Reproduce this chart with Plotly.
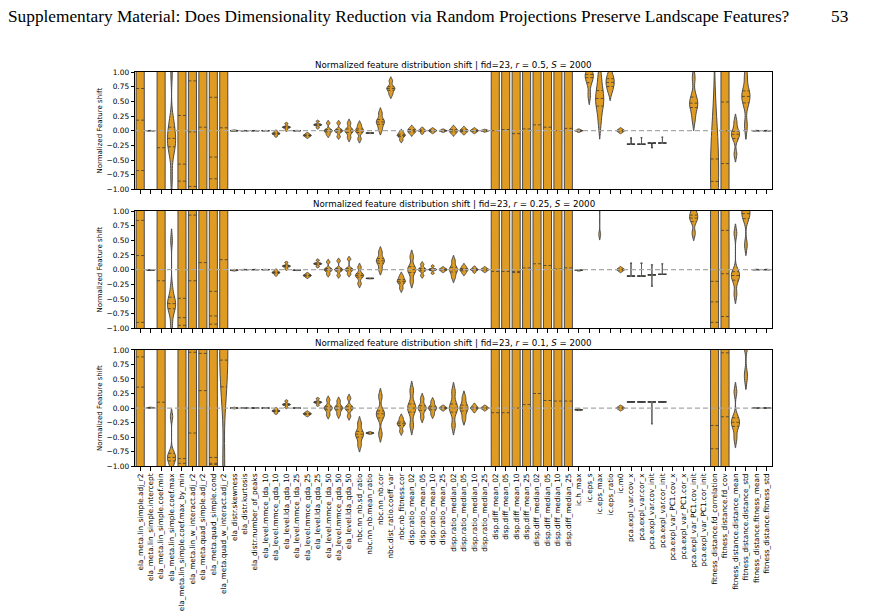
import numpy as np
import plotly.graph_objects as go

features = [
    "ela_meta.lin_simple.adj_r2", "ela_meta.lin_simple.intercept", "ela_meta.lin_simple.coef.min",
    "ela_meta.lin_simple.coef.max", "ela_meta.lin_simple.coef.max_by_min", "ela_meta.lin_w_interact.adj_r2",
    "ela_meta.quad_simple.adj_r2", "ela_meta.quad_simple.cond", "ela_meta.quad_w_interact.adj_r2",
    "ela_distr.skewness", "ela_distr.kurtosis", "ela_distr.number_of_peaks",
    "ela_level.mmce_lda_10", "ela_level.mmce_qda_10", "ela_level.lda_qda_10",
    "ela_level.mmce_lda_25", "ela_level.mmce_qda_25", "ela_level.lda_qda_25",
    "ela_level.mmce_lda_50", "ela_level.mmce_qda_50", "ela_level.lda_qda_50",
    "nbc.nn_nb.sd_ratio", "nbc.nn_nb.mean_ratio", "nbc.nn_nb.cor", "nbc.dist_ratio.coeff_var",
    "nbc.nb_fitness.cor",
    "disp.ratio_mean_02", "disp.ratio_mean_05", "disp.ratio_mean_10", "disp.ratio_mean_25",
    "disp.ratio_median_02", "disp.ratio_median_05", "disp.ratio_median_10", "disp.ratio_median_25",
    "disp.diff_mean_02", "disp.diff_mean_05", "disp.diff_mean_10", "disp.diff_mean_25",
    "disp.diff_median_02", "disp.diff_median_05", "disp.diff_median_10", "disp.diff_median_25",
    "ic.h_max", "ic.eps_s", "ic.eps_max", "ic.eps_ratio", "ic.m0",
    "pca.expl_var.cov_x", "pca.expl_var.cor_x", "pca.expl_var.cov_init", "pca.expl_var.cor_init",
    "pca.expl_var_PC1.cov_x", "pca.expl_var_PC1.cor_x", "pca.expl_var_PC1.cov_init",
    "pca.expl_var_PC1.cor_init",
    "fitness_distance.fd_correlation", "fitness_distance.fd_cov", "fitness_distance.distance_mean",
    "fitness_distance.distance_std", "fitness_distance.fitness_mean", "fitness_distance.fitness_std",
]

# sample shifts per feature (estimated from the figure); [] = nothing inside the window
shift_r05 = [
    [-40, -0.68, 0.18, 0.72, 40], [-0.003, -0.001, 0, 0.001, 0.003],
    [-40, -1.6, -0.29, 1.6, 40],
    [-0.8, -0.4, -0.31, -0.24, -0.18, -0.13, -0.07, 0.0, 0.12, 0.2, 1.0],
    [-40, -0.86, -0.57, 0.26, 40], [-40, -0.95, -0.02, 0.85, 40],
    [-40, -1.3, 0.06, 1.3, 40], [-40, -0.82, -0.45, 0.57, 40], [-40, -1.4, 0.05, 1.4, 40],
    [-0.008, -0.003, 0, 0.003, 0.008], [-0.003, -0.001, 0, 0.001, 0.003],
    [-0.003, -0.001, 0, 0.001, 0.003], [-0.003, -0.001, 0, 0.001, 0.003],
    [-0.09, -0.06, -0.05, -0.04, -0.01], [0.01, 0.05, 0.06, 0.07, 0.12],
    [-0.004, -0.001, 0, 0.001, 0.004], [-0.11, -0.09, -0.08, -0.07, -0.05],
    [0.05, 0.09, 0.1, 0.11, 0.16],
    [-0.07, -0.02, 0, 0.02, 0.13], [-0.1, -0.02, 0, 0.02, 0.13], [-0.12, -0.03, 0, 0.03, 0.13],
    [-0.14, -0.03, 0, 0.03, 0.1], [-0.045, -0.042, -0.04, -0.038, -0.035],
    [0.02, 0.11, 0.15, 0.19, 0.3], [0.62, 0.69, 0.72, 0.75, 0.85],
    [-0.16, -0.1, -0.08, -0.06, -0.02],
    [-0.05, -0.02, 0, 0.02, 0.05], [-0.04, -0.01, 0, 0.01, 0.04], [-0.03, -0.01, 0, 0.01, 0.03],
    [-0.02, -0.005, 0, 0.005, 0.02],
    [-0.05, -0.02, 0, 0.02, 0.05], [-0.04, -0.015, 0, 0.015, 0.04], [-0.03, -0.01, 0, 0.01, 0.03],
    [-0.015, -0.005, 0, 0.005, 0.015],
    [-40, -1.2, 0.0, 1.2, 40], [-40, -1.2, 0.02, 1.2, 40], [-40, -1.2, -0.05, 1.2, 40],
    [-40, -1.2, 0.03, 1.2, 40],
    [-40, -1.2, 0.1, 1.2, 40], [-40, -1.2, 0.06, 1.2, 40], [-40, -1.2, 0.0, 1.2, 40],
    [-40, -1.2, 0.04, 1.2, 40],
    [-0.02, -0.005, 0, 0.005, 0.02], [0.6, 0.8, 0.88, 0.93, 0.97, 1.02],
    [0.14, 0.38, 0.46, 0.55, 0.62, 0.75, 0.95], [0.66, 0.74, 0.8, 0.85, 0.9, 0.98],
    [-0.03, -0.01, 0, 0.01, 0.03],
    [-0.23, -0.23, -0.23, -0.23, -0.23, -0.12], [-0.23, -0.23, -0.23, -0.23, -0.23, -0.12],
    [-0.29, -0.21, -0.21, -0.21, -0.21, -0.21], [-0.21, -0.21, -0.21, -0.21, -0.21, -0.11],
    [], [], [0.2, 0.38, 0.44, 0.5, 0.6, 0.9], [],
    [-2.5, -1.6, -1.0, -0.73, -0.4, 0.05], [-40, -0.56, 0.0, 0.49, 40],
    [-0.4, -0.15, -0.08, -0.04, 0.0, 0.15], [0.08, 0.45, 0.55, 0.62, 0.7, 0.95],
    [-0.004, -0.001, 0, 0.001, 0.004], [-0.004, -0.001, 0, 0.001, 0.004],
]

shift_r025 = [
    [-40, -0.9, 0.24, 0.84, 40], [-0.014, -0.011, -0.01, -0.009, -0.006],
    [-40, -1.4, -0.19, 1.4, 40],
    [-0.95, -0.75, -0.68, -0.63, -0.6, -0.56, -0.5, -0.46, -0.3, 0.5],
    [-40, -0.95, -0.82, -0.49, 40], [-40, -1.5, -0.19, 0.93, 40],
    [-40, -1.3, 0.12, 1.3, 40], [-40, -0.93, -0.79, -0.37, 40], [-40, -1.3, 0.17, 1.3, 40],
    [-0.018, -0.013, -0.01, -0.007, -0.002], [-0.003, -0.001, 0, 0.001, 0.003],
    [-0.003, -0.001, 0, 0.001, 0.003], [-0.003, -0.001, 0, 0.001, 0.003],
    [-0.09, -0.06, -0.05, -0.04, -0.01], [0.01, 0.05, 0.06, 0.07, 0.12],
    [-0.014, -0.011, -0.01, -0.009, -0.006], [-0.13, -0.11, -0.1, -0.09, -0.07],
    [0.05, 0.09, 0.1, 0.11, 0.16],
    [-0.08, -0.02, 0, 0.02, 0.13], [-0.1, -0.02, 0, 0.02, 0.15], [-0.08, -0.02, 0, 0.02, 0.18],
    [-0.24, -0.13, -0.1, -0.07, 0.04], [-0.155, -0.152, -0.15, -0.148, -0.145],
    [0.0, 0.11, 0.15, 0.19, 0.3], [], [-0.32, -0.23, -0.2, -0.17, -0.11],
    [-0.2, -0.05, 0, 0.05, 0.22], [-0.1, -0.02, 0, 0.02, 0.09], [-0.06, -0.01, 0, 0.01, 0.06],
    [-0.03, -0.01, 0, 0.01, 0.03],
    [-0.13, -0.04, 0, 0.04, 0.15], [-0.06, -0.02, 0, 0.02, 0.06], [-0.04, -0.01, 0, 0.01, 0.04],
    [-0.03, -0.01, 0, 0.01, 0.03],
    [-40, -1.2, -0.03, 1.2, 40], [-40, -1.2, -0.03, 1.2, 40], [-40, -0.05, -0.03, 1.2, 40],
    [-40, -1.2, 0.03, 1.2, 40],
    [-40, -1.2, 0.1, 1.2, 40], [-40, -1.2, 0.07, 1.2, 40], [-40, -1.2, 0.01, 1.2, 40],
    [-40, -1.2, 0.03, 1.2, 40],
    [-0.02, -0.012, -0.01, -0.008, -0.003], [],
    [0.6, 1.2, 1.22, 1.25, 1.27, 1.3, 1.32, 1.35], [],
    [-0.03, -0.01, 0, 0.01, 0.03],
    [-0.11, -0.11, -0.11, -0.11, -0.11, -0.11, -0.11, -0.11, 0.11, 0.11],
    [-0.11, -0.11, -0.11, -0.11, -0.11, -0.11, -0.11, -0.11, 0.11, 0.11],
    [-0.28, -0.09, -0.09, -0.09, -0.09, 0.08], [-0.08, -0.08, -0.08, -0.08, -0.08, 0.1],
    [], [], [0.62, 0.82, 0.88, 0.93, 1.0], [],
    [-40, -0.9, -0.55, -0.2, 40], [-40, -0.8, -0.07, 0.67, 40],
    [-0.42, -0.2, -0.12, -0.08, -0.02, 0.62], [0.42, 0.85, 0.93, 0.98, 1.05, 1.15],
    [-0.004, -0.001, 0, 0.001, 0.004], [-0.004, -0.001, 0, 0.001, 0.004],
]

shift_r01 = [
    [-40, -1.3, 0.36, 0.88, 40], [-0.001, 0.003, 0.005, 0.007, 0.011],
    [-40, -1.3, 0.1, 1.3, 40],
    [-1.05, -0.93, -0.89, -0.85, -0.81, -0.75, -0.15],
    [-40, -0.95, -0.87, 1.3, 40], [-40, -1.5, -0.43, 0.96, 40],
    [-40, 0.3, 0.94, 1.5, 40], [-40, -0.97, -0.95, -0.85, 40],
    [-0.98, 0.2, 0.42, 0.7, 0.95, 1.1, 1.3, 1.6],
    [-0.008, -0.003, 0, 0.003, 0.008], [-0.003, -0.001, 0, 0.001, 0.003],
    [-0.003, -0.001, 0, 0.001, 0.003], [-0.003, -0.001, 0, 0.001, 0.003],
    [-0.09, -0.06, -0.05, -0.04, -0.01], [0.01, 0.05, 0.06, 0.07, 0.12],
    [-0.004, -0.001, 0, 0.001, 0.004], [-0.13, -0.11, -0.1, -0.09, -0.07],
    [0.05, 0.09, 0.1, 0.11, 0.16],
    [-0.12, -0.03, 0, 0.03, 0.14], [-0.11, -0.03, 0, 0.03, 0.12], [-0.14, -0.03, 0, 0.03, 0.17],
    [-0.64, -0.5, -0.45, -0.4, -0.26], [-0.445, -0.435, -0.43, -0.425, -0.415],
    [-0.45, -0.17, -0.1, -0.05, 0.2], [], [-0.4, -0.3, -0.27, -0.24, -0.17],
    [-0.3, -0.07, 0, 0.07, 0.3], [-0.16, -0.04, 0, 0.04, 0.16], [-0.11, -0.03, 0, 0.03, 0.11],
    [-0.03, -0.01, 0, 0.01, 0.03],
    [-0.3, -0.07, 0, 0.07, 0.28], [-0.18, -0.05, 0, 0.05, 0.18], [-0.05, -0.015, 0, 0.015, 0.05],
    [-0.03, -0.01, 0, 0.01, 0.03],
    [-40, -1.2, -0.08, 1.2, 40], [-40, -1.2, -0.08, 1.2, 40], [-40, -1.2, 0.0, 1.2, 40],
    [-40, -1.2, 0.06, 1.2, 40],
    [-40, -1.2, 0.25, 1.2, 40], [-40, -1.2, 0.13, 1.2, 40], [-40, -1.2, 0.12, 1.2, 40],
    [-40, -1.2, 0.12, 1.2, 40],
    [-0.04, -0.032, -0.03, -0.028, -0.02], [], [], [],
    [-0.03, -0.01, 0, 0.01, 0.03],
    [0.104, 0.105, 0.105, 0.105, 0.106], [0.104, 0.105, 0.105, 0.105, 0.106],
    [-0.27, 0.105, 0.105, 0.105, 0.105, 0.105], [0.104, 0.105, 0.105, 0.105, 0.106],
    [], [], [], [],
    [-40, -0.7, -0.3, 1.5, 40], [-40, -1.4, -0.15, 0.95, 40],
    [-0.52, -0.33, -0.27, -0.22, -0.15, 0.28], [0.55, 1.1, 1.2, 1.3, 1.4],
    [-0.004, -0.001, 0, 0.001, 0.004], [-0.004, -0.001, 0, 0.001, 0.004],
]

panels = [("0.5", shift_r05), ("0.25", shift_r025), ("0.1", shift_r01)]

ORANGE = "#E09C22"
EDGE = "#4a4a4a"
W = 0.78
FONT = "DejaVu Sans"

# the page body adds an 8px margin, so the figure is drawn 8px smaller and shifted
FW, FH, OFF = 861, 608, 8


def fx(px):
    return (px - OFF) / FW


def fy(py):
    return 1 - (py - OFF) / FH


x_dom = [fx(135), fx(772)]
y_doms = [[fy(188), fy(69)], [fy(329), fy(210)], [fy(469), fy(351)]]


def bandwidth(v):
    span = v.max() - v.min()
    if span > 20:
        return 12.0  # very spread features: flat band inside the window
    q1, q3 = np.percentile(v, [25, 75])
    sil = 1.059 * min(v.std(ddof=1), (q3 - q1) / 1.349) * len(v) ** -0.2
    return max(sil, span / 100)


def density(v, bw, t):
    t = np.atleast_1d(np.asarray(t, float))
    return np.exp(-0.5 * ((t[:, None] - v[None, :]) / bw) ** 2).sum(axis=1)


fig = go.Figure()
layout = {}

for k, (r, data) in enumerate(panels):
    sfx = "" if k == 0 else str(k + 1)
    xa, ya = "x" + sfx, "y" + sfx
    qx, qy = [], []
    for i, vals in enumerate(data):
        if not vals:
            continue
        v = np.array(vals, float)
        bw = bandwidth(v)
        fig.add_trace(go.Violin(
            x=[i] * len(v), y=v, xaxis=xa, yaxis=ya, bandwidth=bw, width=W,
            scalemode="width", spanmode="soft", points=False,
            fillcolor=ORANGE, line=dict(color=EDGE, width=1),
            hoverinfo="skip", showlegend=False,
        ))
        # quartile lines like seaborn's inner="quartile"
        grid = np.concatenate([np.linspace(v.min() - 2 * bw, v.max() + 2 * bw, 800), v])
        peak = density(v, bw, grid).max()
        for q in np.percentile(v, [25, 50, 75]):
            if -1 < q < 1:
                hw = W / 2 * density(v, bw, q)[0] / peak
                qx += [i - hw, i + hw, None]
                qy += [q, q, None]
    fig.add_trace(go.Scatter(
        x=qx, y=qy, mode="lines", xaxis=xa, yaxis=ya,
        line=dict(color="#3a3a3a", width=0.8, dash="3px,2px"),
        hoverinfo="skip", showlegend=False,
    ))

    fig.add_shape(type="line", xref=xa + " domain", x0=0, x1=1, yref=ya, y0=0, y1=0,
                  line=dict(color="#a8a8a8", width=1.2, dash="5px,3px"), layer="above")

    layout["xaxis" + sfx] = dict(
        domain=x_dom, anchor=ya, range=[-0.5, 60.5],
        tickvals=list(range(len(features))), ticktext=features,
        showticklabels=(k == 2), tickangle=-90,
        tickfont=dict(family=FONT, size=7.3, color="black"),
        ticks="outside", ticklen=3.5, tickwidth=0.8, tickcolor="black",
        showline=True, mirror=True, linecolor="black", linewidth=0.8,
        showgrid=False, zeroline=False,
    )
    layout["yaxis" + sfx] = dict(
        domain=y_doms[k], anchor=xa, range=[-1, 1],
        tickvals=[-1, -0.75, -0.5, -0.25, 0, 0.25, 0.5, 0.75, 1], tickformat=".2f",
        tickfont=dict(family=FONT, size=7.4, color="black"),
        ticks="outside", ticklen=3.5, tickwidth=0.8, tickcolor="black",
        showline=True, mirror=True, linecolor="black", linewidth=0.8,
        showgrid=False, zeroline=False,
        title=dict(text="Normalized Feature shift", font=dict(family=FONT, size=7, color="black"),
                   standoff=3),
    )
    fig.add_annotation(
        x=sum(x_dom) / 2, y=y_doms[k][1], xref="paper", yref="paper",
        xanchor="center", yanchor="bottom", yshift=0, showarrow=False,
        text=f"Normalized feature distribution shift | fid=23, <i>r</i> = {r}, <i>S</i> = 2000",
        font=dict(family=FONT, size=8.7, color="black"),
    )

fig.add_annotation(
    x=fx(6), y=fy(13), xref="paper", yref="paper", xanchor="left", yanchor="middle",
    showarrow=False, font=dict(family="Liberation Serif", size=17.3, color="black"),
    text="Supplementary Material: Does Dimensionality Reduction via Random Projections Preserve Landscape Features?",
)
fig.add_annotation(
    x=fx(850), y=fy(13), xref="paper", yref="paper", xanchor="right", yanchor="middle",
    showarrow=False, font=dict(family="Liberation Serif", size=17.3, color="black"), text="53",
)

fig.update_layout(
    **layout,
    width=FW, height=FH, margin=dict(l=0, r=0, t=0, b=0),
    violinmode="overlay", plot_bgcolor="white", paper_bgcolor="white",
)

fig.write_html("out.html")
